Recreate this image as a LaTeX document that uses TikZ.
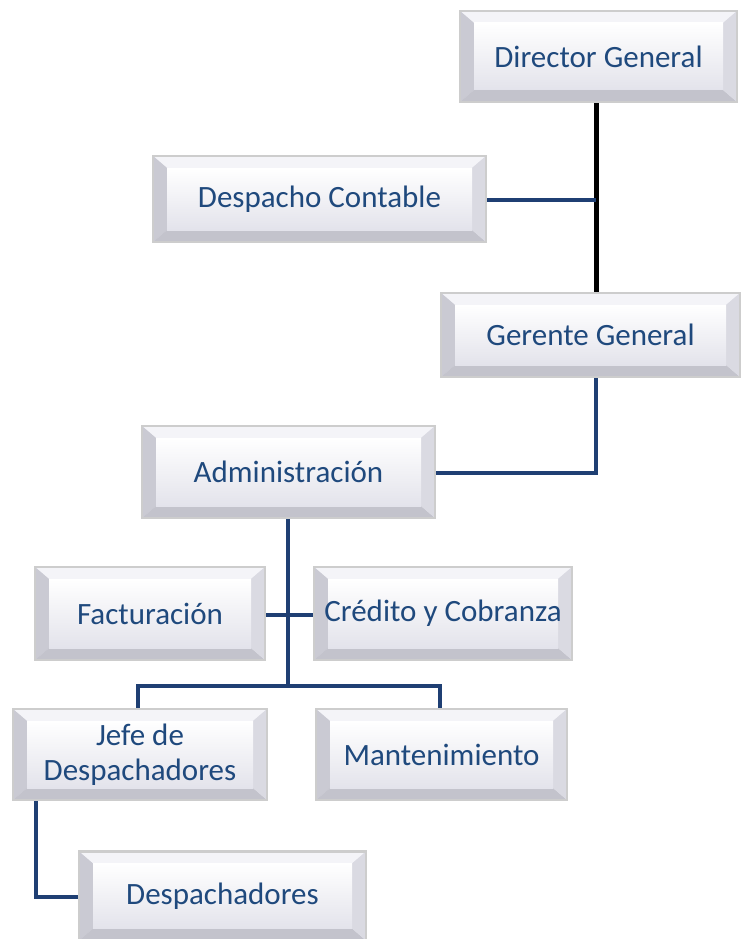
\documentclass[tikz,border=0pt]{standalone}
\usepackage{fontspec}
\setmainfont{Carlito}
\usetikzlibrary{calc}
\definecolor{txtblue}{HTML}{1F497D}
\definecolor{lineblue}{HTML}{1F3F73}
\definecolor{facecol}{HTML}{E3E3EB}
\definecolor{topbev}{HTML}{F4F4F8}
\definecolor{leftbev}{HTML}{CACAD3}
\definecolor{botbev}{HTML}{C3C3CC}
\definecolor{rightbev}{HTML}{DADAE2}
\definecolor{edgecol}{HTML}{CDCDCD}
\tikzset{
  bevbox/.style={draw=edgecol, line width=2.5pt, inner sep=0pt, align=center,
    text=txtblue, font=\fontsize{31}{35}\selectfont,
    path picture={
      \coordinate (nw) at (path picture bounding box.north west);
      \coordinate (ne) at (path picture bounding box.north east);
      \coordinate (sw) at (path picture bounding box.south west);
      \coordinate (se) at (path picture bounding box.south east);
      \coordinate (inw) at ([xshift=14pt,yshift=-12pt]nw);
      \coordinate (ine) at ([xshift=-14pt,yshift=-12pt]ne);
      \coordinate (isw) at ([xshift=14pt,yshift=12pt]sw);
      \coordinate (ise) at ([xshift=-14pt,yshift=12pt]se);
      \fill[facecol] (nw) rectangle (se);
      \fill[topbev] (nw) -- (ne) -- (ine) -- (inw) -- cycle;
      \fill[leftbev] (nw) -- (inw) -- (isw) -- (sw) -- cycle;
      \fill[botbev] (sw) -- (isw) -- (ise) -- (se) -- cycle;
      \fill[rightbev] (ne) -- (se) -- (ise) -- (ine) -- cycle;
      \fill[top color=white, bottom color=facecol] (inw) rectangle (ise);
    }},
  conn/.style={draw=lineblue, line width=4pt},
  connblack/.style={draw=black, line width=5pt}
}
\begin{document}
\begin{tikzpicture}[x=1pt,y=-1pt]
\useasboundingbox (0,0) rectangle (741,939);
\fill[white] (0,0) rectangle (741,939);

\node[bevbox, minimum width=277pt, minimum height=91pt] (dir) at (598.5,56.5) {Director General};
\node[bevbox, minimum width=333pt, minimum height=86pt] (desp) at (319.5,199) {Despacho Contable};
\node[bevbox, minimum width=299pt, minimum height=84pt] (ger) at (590.5,335) {Gerente General};
\node[bevbox, minimum width=293pt, minimum height=92pt] (adm) at (288.5,472) {Administración};
\node[bevbox, minimum width=230pt, minimum height=93pt] (fac) at (150,613.5) {Facturación};
\node[bevbox, minimum width=258pt, minimum height=93pt] (cred) at (443,613.5) {Crédito y Cobranza};
\node[bevbox, minimum width=254pt, minimum height=91pt] (jefe) at (140,754.5) {Jefe de\\Despachadores};
\node[bevbox, minimum width=251pt, minimum height=91pt] (mant) at (441.5,754.5) {Mantenimiento};
\node[bevbox, minimum width=287pt, minimum height=89pt] (despa) at (222.5,896) {Despachadores};

\coordinate (c1) at (596,200);
\coordinate (c2) at (596,473);
\coordinate (c3) at (288,686);
\coordinate (c4) at (138,686);
\coordinate (c5) at (440,686);
\coordinate (c6) at (36,897);
\coordinate (c7) at (290,615);

\draw[connblack] (dir.south -| c1) -- (ger.north -| c1);
\draw[conn] (desp.east |- c1) -- (c1);
\draw[conn] (ger.south -| c2) -- (c2) -- (adm.east |- c2);
\draw[conn] (adm.south -| c3) -- (c3);
\draw[conn, line cap=rect] (c4) -- (c5);
\draw[conn] (c4) -- (jefe.north -| c4);
\draw[conn] (c5) -- (mant.north -| c5);
\draw[conn] (fac.east |- c7) -- (cred.west |- c7);
\draw[conn] (jefe.south -| c6) -- (c6) -- (despa.west |- c6);
\end{tikzpicture}
\end{document}
